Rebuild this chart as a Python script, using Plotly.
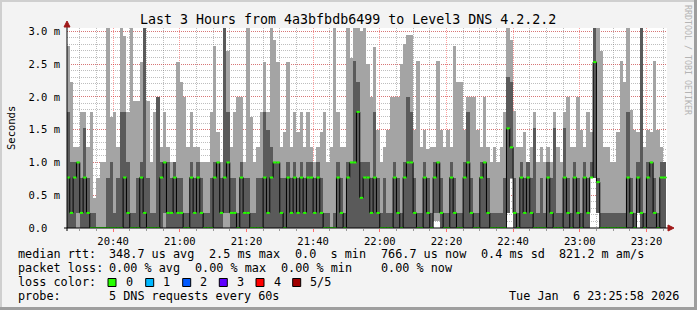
import plotly.graph_objects as go
import pandas as pd

# ---------------- data (ms) ----------------
start_time = "2026-01-06 20:26:00"
n_steps = 180

median_rtt = [0.77,0.23,0.77,1.0,0.23,0.77,0.23,0,0,0, 0,0,0,0,0,0,0,0.77,0.23,0, 0,0,0.77,0.23,0,0,0,0,0.77,1.0,
              0.23,0.23,0.77,0.23,0.23,0,0,0.77,0.23,0.77, 0.23,0,0,0,0.77,1.0,0.23,0.77,1.0,0.23, 0.23,0,0.77,0.23,0.23,0,0,0,0,0.77,
              0.23,0.77,1.0,1.0,0.23,0,0.77,0.23,0.77,0.23, 0.77,0.23,0.77,0.77,0.23,0.77,0.23,0,0,0, 0,0.77,0.23,0,0.77,1.0,1.0,1.77,0.46,0.77,
              0.77,0.23,0.77,0.23,0,0,0,0,0.77,0.23, 0,0.77,1.0,1.0,0.23,0,0,0.77,0.23,0, 0.77,1.0,0.23,0,0,0.77,0.23,0,0,0.77,
              1.0,0.23,0,0,0.77,1.0,0.23,0,0,0, 0,0,1.52,1.23,0.23,0,0.77,0.23,0.77,0.23, 0,0,0,0,0.77,0.23,0,0,0,0.77,
              0.23,0,0.77,0.23,0,0.77,0.23,0.77,2.53,0.70, 0,0,0,0,0,0,0,0,0.77,0.23, 0,0.77,0.23,0,0.77,1.0,0.23,0,0.77,0.77]

dark_hi = [1.77,1.0,1.0,1.0,0.77,1.52,0.77,0.23,0.23,0, 0,0,0.77,1.0,0.23,0.77,1.77,1.77,1.0,0.23, 0.23,0.77,1.0,3.05,0.77,0.23,0.23,2.0,1.0,1.0,
           1.0,0.77,1.0,0.77,0.77,0.23,0.23,1.0,0.77,1.0, 0.77,0.23,0.23,0.77,1.0,1.0,0.77,3.05,1.77,0.77, 0.77,0.23,1.0,0.77,0.77,0.23,0.23,0.77,0.77,1.77,
           1.5,1.23,1.0,1.0,0.77,0.77,1.0,0.77,1.0,0.77, 1.0,0.77,1.0,1.0,0.77,1.0,0.77,0.23,0.23,0, 0.23,1.0,0.77,0.23,1.0,1.0,2.55,2.23,1.0,1.0,
           1.0,0.77,1.77,0.77,0.23,0.77,0.23,0.23,1.0,0.77, 0.23,1.0,2.0,1.77,0.77,0.23,0.23,1.0,0.77,0.23, 1.0,1.0,0.77,0.23,0.23,1.0,0.77,0.23,0.23,1.0,
           1.77,0.77,0.23,0.23,1.0,1.0,0.77,0.23,0.23,0.23, 0.23,0.77,2.3,2.23,0.77,0.23,1.0,0.77,1.0,0.77, 1.52,0.23,0.77,0.23,1.0,0.77,1.52,0.23,0.23,1.52,
           0.77,0.23,1.0,0.77,0.23,1.0,0.77,1.0,3.05,0.77, 0.23,0.23,0.23,0.23,0.23,0.23,0.23,0.23,1.77,0.77, 0.23,1.0,3.05,0.23,1.0,1.0,0.77,0.23,1.0,1.0]

smoke_hi = [2.77,2.22,1.23,1.23,1.77,1.77,1.23,1.77,0.46,0.77, 1.0,1.0,3.05,1.69,1.77,1.23,3.05,2.93,1.77,3.05, 1.93,1.93,2.53,3.05,1.93,1.0,1.77,2.0,1.23,1.77,
            1.23,1.0,1.0,2.53,2.23,2.0,1.23,1.77,1.23,1.23, 1.0,1.0,1.0,1.77,2.77,1.46,1.0,3.05,2.7,1.23, 1.77,2.0,2.0,1.0,3.05,1.69,1.0,1.23,1.77,2.53,
            1.77,3.05,2.87,2.53,1.23,1.46,2.53,1.23,1.77,1.46, 1.77,1.23,1.77,1.23,1.0,1.23,1.46,1.77,1.0,1.23, 3.05,1.77,1.23,1.23,3.05,2.6,3.05,3.05,3.0,3.05,
            2.5,2.0,2.76,1.5,1.0,1.23,1.5,2.0,2.0,2.0, 2.5,2.8,2.95,2.95,1.5,2.55,1.23,1.5,1.2,1.23, 1.23,2.55,1.5,1.23,1.5,1.23,2.78,2.23,2.23,1.5,
            2.0,2.0,2.0,1.5,1.23,2.0,1.23,1.0,1.23,1.0, 1.23,1.77,3.05,2.86,1.78,1.23,1.23,1.46,1.0,1.23, 1.77,1.0,1.23,1.0,1.23,1.0,1.77,1.23,1.0,1.77,
            2.0,1.23,1.23,2.0,1.5,1.23,1.77,1.46,3.05,3.05, 2.7,1.23,1.23,1.0,1.0,1.46,2.55,2.23,3.05,1.8, 1.5,1.46,3.05,1.23,1.5,1.46,2.55,1.5,1.23,1.0]

dark_lo = [0,0,0,0.23,0,0,0,0,0,0, 0,0,0,0,0,0,0,0,0,0, 0,0,0,0,0,0,0,0,0,0.23,
           0,0,0,0,0,0,0,0,0,0, 0,0,0,0,0,0,0,0.23,0.23,0, 0,0,0,0,0,0,0,0,0,0,
           0,0,0,0,0,0,0,0,0,0, 0,0,0,0,0,0,0,0,0,0, 0,0,0,0,0,0,0,0,0,0,
           0,0,0,0,0,0,0,0,0,0, 0,0,0,0,0,0,0,0,0,0, 0.23,0.23,0,0,0,0,0,0,0,0,
           0,0,0,0,0,0,0,0,0,0, 0,0,0.23,0.77,0,0,0,0,0,0, 0,0,0,0,0,0,0,0,0,0,
           0,0,0,0,0,0,0,0.77,0.77,0.23, 0,0,0,0,0,0,0,0,0,0, 0,0.23,0,0,0,0,0,0,0,0]

smoke_lo = [0,0,0,0,0,0,0,0,0,0, 0,0,0,0,0,0,0,0,0,0, 0,0,0,0,0,0,0,0,0,0,
            0,0,0,0,0,0,0,0,0,0, 0,0,0,0,0,0,0,0,0,0, 0,0,0,0,0,0,0,0,0,0,
            0,0,0,0,0,0,0,0,0,0, 0,0,0,0,0,0,0,0,0,0, 0,0,0,0,0,0,0,0,0,0,
            0,0,0,0,0,0,0,0,0,0, 0,0,0,0,0,0,0,0,0,0, 0.1,0.1,0,0,0,0,0,0,0,0,
            0,0,0,0,0,0,0,0,0,0, 0,0,0.23,0.75,0,0,0,0,0,0, 0,0,0,0,0,0,0,0,0,0,
            0,0,0,0,0,0,0,0.77,0.77,0.23, 0,0,0,0,0,0,0,0,0,0, 0,0.23,0,0,0,0,0,0,0,0]

y_tick_vals = [0, 0.5, 1.0, 1.5, 2.0, 2.5, 3.0]
y_tick_text = ["0.0\u00a0\u00a0", "0.5 m", "1.0 m", "1.5 m", "2.0 m", "2.5 m", "3.0 m"]

loss_labels = ["0", "1", "2", "3", "4", "5/5"]
loss_colors = ["#26ff00", "#00b8ff", "#0059ff", "#5e00ff", "#ff0000", "#a00000"]

# ---------------- geometry helpers ----------------
W, H = 697, 310
L, R, T, B = 67, 30, 28, 82
PW, PH = W - L - R, H - T - B


def xp(px):
    return (px - L) / PW


def yp(py):
    return (H - B - py) / PH


FONT = "DejaVu Sans Mono"
LIGHT = "#a4a4a4"
DARK = "#5a5a5a"

t0 = pd.Timestamp(start_time)
starts = [t0 + pd.Timedelta(minutes=k) for k in range(n_steps)]
centers = [s + pd.Timedelta(seconds=30) for s in starts]

fig = go.Figure()

fig.add_trace(go.Bar(
    x=centers, base=smoke_lo, y=[h - l for h, l in zip(smoke_hi, smoke_lo)],
    width=60000, marker=dict(color=LIGHT, line=dict(width=0)), hoverinfo="skip"))
fig.add_trace(go.Bar(
    x=centers, base=dark_lo, y=[h - l for h, l in zip(dark_hi, dark_lo)],
    width=60000, marker=dict(color=DARK, line=dict(width=0)), hoverinfo="skip"))

# median step line (black verticals)
fig.add_trace(go.Scatter(
    x=starts + [starts[-1] + pd.Timedelta(minutes=1)], y=median_rtt + [median_rtt[-1]],
    mode="lines", line=dict(color="#000000", width=1, shape="hv"), hoverinfo="skip"))

# green horizontal median segments (loss colour 0)
gx, gy = [], []
for s, m in zip(starts, median_rtt):
    gx += [s, s + pd.Timedelta(minutes=1), None]
    gy += [m, m, None]
fig.add_trace(go.Scatter(x=gx, y=gy, mode="lines",
                         line=dict(color=loss_colors[0], width=2), hoverinfo="skip"))

red_grid = "rgba(255,0,0,0.38)"
gray_grid = "rgba(110,110,110,0.45)"

fig.update_xaxes(
    type="date",
    range=["2026-01-06 20:26:10", "2026-01-06 23:26:10"],
    tick0="2026-01-06 20:40:00", dtick=1200000, tickformat="%H:%M",
    showgrid=True, gridcolor=red_grid, griddash="1px,1px", gridwidth=1,
    minor=dict(dtick=300000, tick0="2026-01-06 20:40:00", showgrid=True,
               gridcolor=gray_grid, griddash="1px,1px", ticks="outside",
               ticklen=2, tickcolor="#999999"),
    ticks="outside", ticklen=3, tickcolor="#ff7070",
    tickfont=dict(family=FONT, size=10.5, color="#000000"),
    showline=False, zeroline=False, fixedrange=True,
)
fig.update_yaxes(
    range=[0, 3.05],
    tickvals=y_tick_vals, ticktext=y_tick_text,
    showgrid=True, gridcolor=red_grid, griddash="1px,1px", gridwidth=1,
    minor=dict(dtick=0.1, tick0=0, showgrid=True, gridcolor=gray_grid, griddash="1px,1px"),
    ticks="", ticklabelstandoff=6,
    tickfont=dict(family=FONT, size=10.5, color="#000000"),
    showline=False, zeroline=False, fixedrange=True,
)

shapes = []
# outer frame shading
shapes.append(dict(type="rect", xref="paper", yref="paper", x0=xp(0), x1=xp(W), y0=yp(0), y1=yp(2),
                   fillcolor="#cfcfcf", line=dict(width=0), layer="below"))
shapes.append(dict(type="rect", xref="paper", yref="paper", x0=xp(0), x1=xp(2), y0=yp(0), y1=yp(H),
                   fillcolor="#cfcfcf", line=dict(width=0), layer="below"))
shapes.append(dict(type="rect", xref="paper", yref="paper", x0=xp(W - 3), x1=xp(W), y0=yp(0), y1=yp(H),
                   fillcolor="#9e9e9e", line=dict(width=0), layer="below"))
shapes.append(dict(type="rect", xref="paper", yref="paper", x0=xp(0), x1=xp(W), y0=yp(H - 3), y1=yp(H),
                   fillcolor="#9e9e9e", line=dict(width=0), layer="below"))
# axes lines
shapes.append(dict(type="line", xref="paper", yref="paper", x0=xp(64), x1=xp(669), y0=0, y1=0,
                   line=dict(color="#000000", width=1)))
shapes.append(dict(type="line", xref="paper", yref="paper", x0=0, x1=0, y0=yp(231), y1=yp(25),
                   line=dict(color="#000000", width=1)))
# arrows
shapes.append(dict(type="path", xref="paper", yref="paper",
                   path=f"M {xp(664)} {yp(21)} L {xp(670)} {yp(21)} L {xp(667)} {yp(27)} Z".replace(
                       f"M {xp(664)} {yp(21)}", f"M {xp(64)} {yp(27)}").replace(
                       f"L {xp(670)} {yp(21)}", f"L {xp(70)} {yp(27)}").replace(
                       f"L {xp(667)} {yp(27)}", f"L {xp(67)} {yp(21)}"),
                   fillcolor="#a01818", line=dict(color="#a01818", width=1)))
shapes.append(dict(type="path", xref="paper", yref="paper",
                   path=f"M {xp(668)} {yp(225)} L {xp(668)} {yp(231)} L {xp(674)} {yp(228)} Z",
                   fillcolor="#a01818", line=dict(color="#a01818", width=1)))

annotations = []


def txt(s, px, py, size=11.8, anchor="left", color="#000000", angle=0):
    annotations.append(dict(text=s.replace(" ", "\u00a0"), xref="paper", yref="paper",
                            x=xp(px), y=yp(py), xanchor=anchor, yanchor="middle",
                            showarrow=False, textangle=angle,
                            font=dict(family=FONT, size=size, color=color)))


txt("Last 3 Hours from 4a3bfbdb6499 to Level3 DNS 4.2.2.2", 348, 19, size=13.3, anchor="center")
txt("Seconds", 11, 128, size=10.5, anchor="center", angle=-90)
txt("RRDTOOL / TOBI OETIKER", 688, 60, size=8.3, anchor="center", color="#b4b4b4", angle=90)

row1 = [("median rtt:", 15.5), ("348.7 us avg", 106.5), ("2.5 ms max", 206.5), ("0.0  s min", 292.5),
        ("766.7 us now", 378.5), ("0.4 ms sd", 478.5), ("821.2 m am/s", 556.5)]
for s, x in row1:
    txt(s, x, 254)
row2 = [("packet loss:", 15.5), ("0.00 % avg", 106.5), ("0.00 % max", 192.5), ("0.00 % min", 278.5),
        ("0.00 % now", 378.5)]
for s, x in row2:
    txt(s, x, 268)
txt("loss color:", 15.5, 282)
box_x = [108, 145.7, 182.7, 219.3, 256, 292.7]
lab_x = [123.5, 160.5, 197.5, 234.5, 271.5, 307.5]
for lab, col, bx, lx in zip(loss_labels, loss_colors, box_x, lab_x):
    shapes.append(dict(type="rect", xref="paper", yref="paper", x0=xp(bx), x1=xp(bx + 8),
                       y0=yp(286.5), y1=yp(278.5), fillcolor=col, line=dict(color="#000000", width=1)))
    txt(lab, lx, 282)
txt("probe:", 15.5, 296)
txt("5 DNS requests every 60s", 106.5, 296)
txt("Tue Jan  6 23:25:58 2026", 681, 296, anchor="right")

fig.update_layout(
    width=W, height=H, autosize=False,
    margin=dict(l=L, r=R, t=T, b=B, pad=0),
    paper_bgcolor="#f3f3f3", plot_bgcolor="#ffffff",
    barmode="overlay", bargap=0, showlegend=False,
    shapes=shapes, annotations=annotations,
)

fig.write_html("out.html")
